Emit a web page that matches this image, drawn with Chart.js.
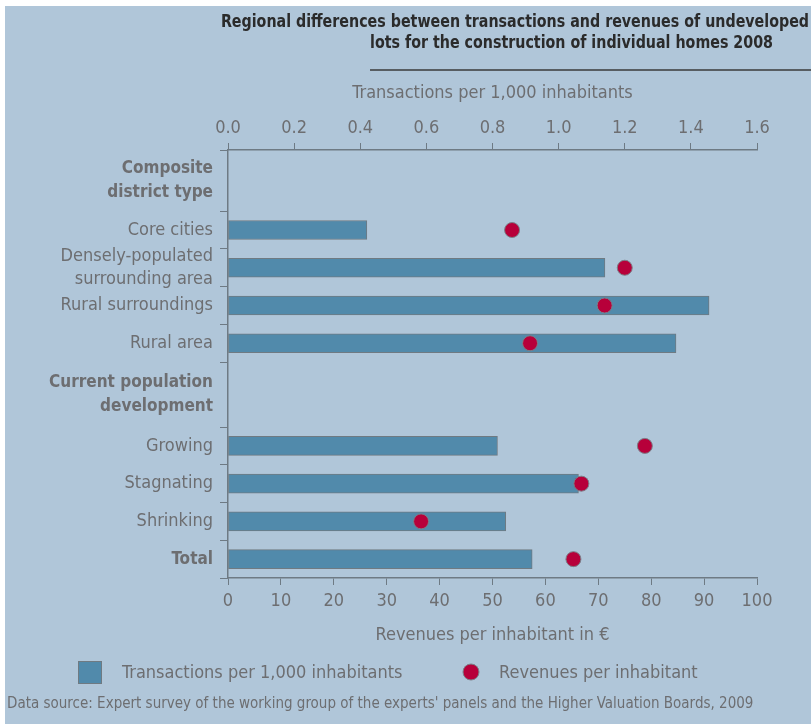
<!DOCTYPE html>
<html lang="en">
<head>
<meta charset="utf-8">
<title>Undeveloped lots 2008</title>
<script src="https://cdn.jsdelivr.net/npm/chart.js@4.4.1/dist/chart.umd.min.js"></script>
<style>
  body { margin: 0; background: #fff; }
  #wrap { width: 811px; height: 724px; }
</style>
</head>
<body>
<div id="wrap"><canvas id="myChart" width="811" height="724"></canvas></div>
<script>
// rows of the chart, top to bottom (header rows have no values)
const rowLabels = [
  ['Composite', 'district type'],
  'Core cities',
  ['Densely-populated', 'surrounding area'],
  'Rural surroundings',
  'Rural area',
  ['Current population', 'development'],
  'Growing',
  'Stagnating',
  'Shrinking',
  'Total'
];
const boldRows = [0, 5, 9];
const rowSpans = [1.62, 1, 1, 1, 1, 1.72, 1, 1, 1, 1];

// transactions per 1,000 inhabitants (top axis)
const transactions = [null, 0.42, 1.14, 1.455, 1.355, null, 0.815, 1.06, 0.84, 0.92];
// revenues per inhabitant in euro (bottom axis)
const revenues = [null, 53.7, 75.0, 71.2, 57.1, null, 78.8, 66.8, 36.5, 65.3];

const topTicks = [0, 0.2, 0.4, 0.6, 0.8, 1.0, 1.2, 1.4, 1.6];
const bottomTicks = [0, 10, 20, 30, 40, 50, 60, 70, 80, 90, 100];

const titleLines = [
  'Regional differences between transactions and revenues of undeveloped',
  'lots for the construction of individual homes 2008'
];
const sourceText = "Data source: Expert survey of the working group of the experts' panels and the Higher Valuation Boards, 2009";

const FONT = "'Liberation Sans Narrow', 'DejaVu Sans Condensed', 'Roboto', sans-serif";
const GREY = '#6d6e71';
const AXIS = '#6e7a84';
const BAR = '#518aab';
const DOT = '#b7003a';

// row boundaries and centres on the y scale
const bounds = [0];
rowSpans.forEach(s => bounds.push(bounds[bounds.length - 1] + s));
const centers = rowSpans.map((s, i) => bounds[i] + s / 2);
const yMax = bounds[bounds.length - 1];

const barData = [];
const dotData = [];
rowLabels.forEach((l, i) => {
  if (transactions[i] != null) barData.push({x: transactions[i], y: centers[i]});
  if (revenues[i] != null) dotData.push({x: revenues[i], y: centers[i]});
});

const framePlugin = {
  id: 'frame',
  beforeDraw(chart) {
    const ctx = chart.ctx;
    ctx.save();
    ctx.fillStyle = '#ffffff';
    ctx.fillRect(0, 0, chart.width, chart.height);
    ctx.fillStyle = '#b0c6d9';
    ctx.fillRect(5, 6, chart.width - 5, chart.height - 6);
    ctx.restore();
  },
  afterDraw(chart) {
    const ctx = chart.ctx;
    const squeeze = 0.88; // condensed look of the original title face
    ctx.save();
    // title
    ctx.fillStyle = '#2b2b2b';
    ctx.font = 'bold 18px ' + FONT;
    ctx.textBaseline = 'middle';
    ctx.textAlign = 'right';
    ctx.save();
    ctx.scale(squeeze, 1);
    ctx.fillText(titleLines[0], 809 / squeeze, 22);
    ctx.fillText(titleLines[1], 773 / squeeze, 43);
    ctx.restore();
    const w2 = ctx.measureText(titleLines[1]).width * squeeze;
    ctx.strokeStyle = '#3a3a3a';
    ctx.lineWidth = 1.5;
    ctx.beginPath();
    ctx.moveTo(773 - w2, 70);
    ctx.lineTo(chart.width, 70);
    ctx.stroke();

    // legend
    const ds = chart.data.datasets;
    ctx.font = '18px ' + FONT;
    ctx.textAlign = 'left';
    ctx.fillStyle = ds[0].backgroundColor;
    ctx.strokeStyle = ds[0].borderColor;
    ctx.lineWidth = 1;
    ctx.fillRect(78.5, 661.5, 23, 22);
    ctx.strokeRect(78.5, 661.5, 23, 22);
    ctx.fillStyle = GREY;
    ctx.fillText(ds[0].label, 122, 673);
    ctx.beginPath();
    ctx.arc(471, 672, 8, 0, Math.PI * 2);
    ctx.fillStyle = ds[1].backgroundColor;
    ctx.fill();
    ctx.strokeStyle = ds[1].borderColor;
    ctx.stroke();
    ctx.fillStyle = GREY;
    ctx.fillText(ds[1].label, 499, 673);
    ctx.restore();
  }
};

const config = {
  type: 'bar',
  data: {
    datasets: [{
      label: 'Transactions per 1,000 inhabitants',
      data: barData,
      xAxisID: 'xTop',
      yAxisID: 'y',
      backgroundColor: BAR,
      borderColor: '#6f7a82',
      borderWidth: 1,
      borderSkipped: false,
      barThickness: 19,
      order: 2
    }, {
      type: 'line',
      label: 'Revenues per inhabitant',
      data: dotData,
      xAxisID: 'xBot',
      yAxisID: 'y',
      showLine: false,
      pointRadius: 7.5,
      pointBackgroundColor: DOT,
      backgroundColor: DOT,
      pointBorderColor: '#7b7f88',
      borderColor: '#7b7f88',
      pointBorderWidth: 1,
      order: 1
    }]
  },
  options: {
    indexAxis: 'y',
    responsive: false,
    animation: false,
    layout: { padding: { left: 7, right: 54, top: 70, bottom: 0 } },
    scales: {
      xTop: {
        type: 'linear',
        position: 'top',
        min: 0,
        max: 1.6,
        afterBuildTicks: s => { s.ticks = topTicks.map(v => ({value: v})); },
        afterFit: s => { s.height = 80; },
        ticks: {
          callback: v => v.toFixed(1),
          color: GREY,
          font: { family: FONT, size: 18 },
          padding: 4,
          maxRotation: 0
        },
        grid: { drawOnChartArea: false, color: AXIS, tickLength: 7 },
        border: { color: AXIS, width: 1.5 },
        title: {
          display: true,
          text: 'Transactions per 1,000 inhabitants',
          color: GREY,
          font: { family: FONT, size: 18 },
          padding: { top: 13, bottom: 0 }
        }
      },
      xBot: {
        type: 'linear',
        position: 'bottom',
        min: 0,
        max: 100,
        afterBuildTicks: s => { s.ticks = bottomTicks.map(v => ({value: v})); },
        afterFit: s => { s.height = 70; },
        ticks: {
          color: GREY,
          font: { family: FONT, size: 18 },
          padding: 6,
          maxRotation: 0
        },
        grid: { drawOnChartArea: false, color: AXIS, tickLength: 7 },
        border: { color: AXIS, width: 1.5 },
        title: {
          display: true,
          text: 'Revenues per inhabitant in €',
          color: GREY,
          font: { family: FONT, size: 18 },
          padding: { top: 0, bottom: 2 }
        }
      },
      y: {
        type: 'linear',
        position: 'left',
        reverse: true,
        min: 0,
        max: yMax,
        offset: false,
        weight: 0,
        afterBuildTicks: s => { s.ticks = bounds.map(v => ({value: v})); },
        afterFit: s => { s.width = 15; },
        ticks: { display: false },
        grid: { drawOnChartArea: false, offset: false, color: AXIS, tickLength: 8 },
        border: { color: AXIS, width: 1.5 }
      },
      yLabels: {
        type: 'linear',
        position: 'left',
        reverse: true,
        min: 0,
        max: yMax,
        offset: false,
        weight: 1,
        afterBuildTicks: s => { s.ticks = centers.map(v => ({value: v})); },
        afterFit: s => { s.width = 206; },
        ticks: {
          autoSkip: false,
          padding: 0,
          callback: (v, i) => rowLabels[i],
          color: GREY,
          font: c => boldRows.includes(c.index)
            ? { family: FONT, size: 17, weight: 'bold', lineHeight: 1.4 }
            : { family: FONT, size: 18, weight: 'normal', lineHeight: 1.3 }
        },
        grid: { display: false, drawTicks: false, offset: false },
        border: { display: false }
      }
    },
    plugins: {
      legend: { display: false },
      tooltip: { enabled: false },
      subtitle: {
        display: true,
        position: 'bottom',
        align: 'start',
        text: sourceText,
        color: GREY,
        font: { family: FONT, size: 15, weight: 'normal' },
        padding: { top: 47, bottom: 11 }
      }
    }
  },
  plugins: [framePlugin]
};

const myChart = new Chart(document.getElementById('myChart'), config);
</script>
</body>
</html>
